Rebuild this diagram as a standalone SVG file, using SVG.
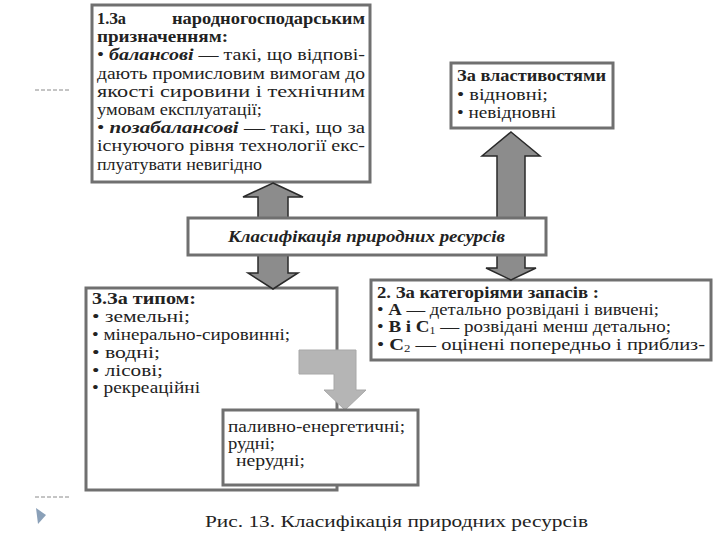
<svg xmlns="http://www.w3.org/2000/svg" width="720" height="540" viewBox="0 0 720 540">
<style>
.box{fill:#fff;stroke:#707070;stroke-width:3}
.t{font-family:"Liberation Serif","Times New Roman",serif;font-size:16px;fill:#222}
.b{font-weight:bold}
.bi{font-weight:bold;font-style:italic}
.arr{fill:#8c8c8c;stroke:#2a2a2a;stroke-width:1.5;stroke-linejoin:miter}
.arrl{fill:#b5b5b5;stroke:#a8a8a8;stroke-width:1}
.dash{stroke:#8a8a8a;stroke-width:1;stroke-dasharray:4 2}
</style>
<rect width="720" height="540" fill="#fff"/>
<line class="dash" x1="35" y1="90" x2="71" y2="90"/>
<line class="dash" x1="35" y1="497" x2="71" y2="497"/>
<polygon points="36,508 46,515 38,524" fill="#8aa0b8"/>

<g id="node-1">
<rect class="box" x="92" y="5" width="278" height="177"/>
<text class="t b" x="97" y="24" textLength="29" lengthAdjust="spacingAndGlyphs">1.За</text>
<text class="t b" x="172" y="24" textLength="193" lengthAdjust="spacingAndGlyphs">народногосподарським</text>
<text class="t b" x="97" y="42.2" textLength="131" lengthAdjust="spacingAndGlyphs">призначенням:</text>
<text class="t" x="97" y="60.4" textLength="268" lengthAdjust="spacingAndGlyphs">• <tspan class="bi">балансові</tspan> — такі, що відпові-</text>
<text class="t" x="97" y="78.6" textLength="268" lengthAdjust="spacingAndGlyphs">дають промисловим вимогам до</text>
<text class="t" x="97" y="96.8" textLength="268" lengthAdjust="spacingAndGlyphs">якості сировини і технічним</text>
<text class="t" x="97" y="115" textLength="165" lengthAdjust="spacingAndGlyphs">умовам експлуатації;</text>
<text class="t" x="97" y="133.2" textLength="268" lengthAdjust="spacingAndGlyphs">• <tspan class="bi">позабалансові</tspan> — такі, що за</text>
<text class="t" x="97" y="151.4" textLength="268" lengthAdjust="spacingAndGlyphs">існуючого рівня технології екс-</text>
<text class="t" x="97" y="169.6" textLength="165" lengthAdjust="spacingAndGlyphs">плуатувати невигідно</text>
</g>

<g id="node-props">
<rect class="box" x="451" y="63" width="162" height="65"/>
<text class="t b" x="457" y="81" textLength="149" lengthAdjust="spacingAndGlyphs">За властивостями</text>
<text class="t" x="457" y="100" textLength="91" lengthAdjust="spacingAndGlyphs">•  відновні;</text>
<text class="t" x="457" y="118" textLength="99" lengthAdjust="spacingAndGlyphs">•  невідновні</text>
</g>

<g id="node-2">
<rect class="box" x="371" y="280" width="340" height="80"/>
<text class="t b" x="377" y="298" textLength="222" lengthAdjust="spacingAndGlyphs">2. За категоріями запасів :</text>
<text class="t" x="377" y="315" textLength="282" lengthAdjust="spacingAndGlyphs">•  <tspan class="b">А</tspan> — детально розвідані і вивчені;</text>
<text class="t" x="377" y="332" textLength="294" lengthAdjust="spacingAndGlyphs">•  <tspan class="b">В і С</tspan><tspan font-size="10" dy="2">1</tspan><tspan dy="-2"> — розвідані менш детально;</tspan></text>
<text class="t" x="377" y="350" textLength="328" lengthAdjust="spacingAndGlyphs">•  <tspan class="b">С</tspan><tspan font-size="10" dy="2">2</tspan><tspan dy="-2"> — оцінені попередньо і приблиз-</tspan></text>
</g>

<g id="node-3">
<rect class="box" x="86" y="288" width="251" height="202"/>
<text class="t b" x="92" y="304" textLength="104" lengthAdjust="spacingAndGlyphs">3.За типом:</text>
<text class="t" x="92" y="322" textLength="98" lengthAdjust="spacingAndGlyphs">•   земельні;</text>
<text class="t" x="92" y="340" textLength="198" lengthAdjust="spacingAndGlyphs">•  мінерально-сировинні;</text>
<text class="t" x="92" y="358" textLength="68" lengthAdjust="spacingAndGlyphs">•  водні;</text>
<text class="t" x="92" y="376" textLength="71" lengthAdjust="spacingAndGlyphs">•  лісові;</text>
<text class="t" x="92" y="393" textLength="108" lengthAdjust="spacingAndGlyphs">•  рекреаційні</text>
</g>

<g id="connectors">
<polygon class="arr" points="273,183 303,197 288,197 288,240 258,240 258,197 243,197"/>
<polygon class="arr" points="258,240 288,240 288,273 298,273 273,289 248,273 258,273"/>
<polygon class="arr" points="511,132 540,156 525,156 525,240 497,240 497,156 482,156"/>
<polygon class="arr" points="497,240 525,240 525,268 536,268 511,280 486,268 497,268"/>
<polygon class="arrl" points="299,350 356,350 356,390 366,390 345,410 324,390 334,390 334,374 299,374"/>
</g>

<g id="node-banner">
<rect class="box" x="188" y="218" width="358" height="37"/>
<text class="t bi" x="228" y="242" font-size="16.5" textLength="277" lengthAdjust="spacingAndGlyphs">Класифікація природних ресурсів</text>
</g>

<g id="node-sub">
<rect class="box" x="223" y="410" width="195" height="75"/>
<text class="t" x="228" y="432" textLength="177" lengthAdjust="spacingAndGlyphs">паливно-енергетичні;</text>
<text class="t" x="228" y="449" textLength="47" lengthAdjust="spacingAndGlyphs">рудні;</text>
<text class="t" x="236" y="466" textLength="69" lengthAdjust="spacingAndGlyphs">нерудні;</text>
</g>

<text class="t" x="205" y="527" font-size="21" textLength="383" lengthAdjust="spacingAndGlyphs">Рис. 13. Класифікація природних ресурсів</text>
</svg>
